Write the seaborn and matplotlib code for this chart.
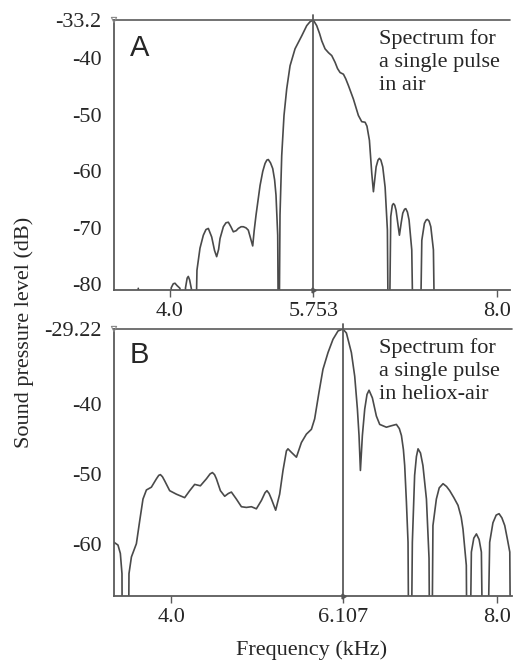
import numpy as np
import pandas as pd
import matplotlib
matplotlib.use("Agg")
import matplotlib.pyplot as plt
import seaborn as sns

# ---------------- data ----------------
freq_a = [3.315, 3.600, 3.612, 3.625, 3.995, 4.015, 4.040, 4.061, 4.085, 4.122,
          4.160, 4.190, 4.210, 4.224, 4.240, 4.262, 4.285, 4.300, 4.330, 4.367,
          4.408, 4.440, 4.469, 4.510, 4.545, 4.571, 4.595, 4.612, 4.653, 4.685,
          4.714, 4.745, 4.775, 4.810, 4.836, 4.870, 4.897, 4.930, 4.958, 4.985,
          5.012, 5.030, 5.053, 5.102, 5.135, 5.163, 5.185, 5.203, 5.230, 5.257,
          5.280, 5.297, 5.318, 5.330, 5.346, 5.367, 5.395, 5.428, 5.469, 5.530,
          5.612, 5.673, 5.714, 5.753, 5.795, 5.830, 5.857, 5.897, 5.940, 5.979,
          6.020, 6.050, 6.081, 6.122, 6.150, 6.183, 6.244, 6.305, 6.346, 6.387,
          6.410, 6.440, 6.469, 6.489, 6.522, 6.545, 6.562, 6.580, 6.603, 6.632,
          6.660, 6.676, 6.701, 6.720, 6.734, 6.750, 6.766, 6.790, 6.807, 6.830,
          6.848, 6.870, 6.885, 6.905, 6.925, 6.958, 6.986, 7.052, 7.081, 7.113,
          7.135, 7.149, 7.170, 7.191, 7.223, 7.248, 8.160]
level_a = [-100, -100, -80.7, -100, -100, -80.6, -79.9, -79.8, -80.2, -80.7,
           -100, -80.6, -78.9, -78.6, -79.2, -80.8, -100, -100, -77.5, -73.6,
           -71.3, -70.3, -70.1, -71.6, -74.0, -75.1, -73.8, -71.9, -69.8, -69.1,
           -69.0, -69.8, -70.7, -70.5, -70.1, -69.8, -69.8, -70.0, -70.4, -71.8,
           -73.2, -70.5, -67.7, -62.5, -60.0, -58.6, -58.0, -57.9, -58.5, -59.5,
           -61.5, -64.2, -71.3, -100, -67.7, -57.2, -50.1, -45.4, -41.3, -38.3,
           -36.0, -34.2, -33.5, -33.2, -34.2, -35.6, -36.9, -38.3, -39.0, -39.5,
           -40.7, -41.8, -42.5, -42.8, -43.6, -44.8, -47.2, -50.1, -51.2, -51.3,
           -52.0, -54.5, -60.4, -63.6, -59.2, -58.0, -57.7, -58.0, -59.2, -62.8,
           -70.4, -100, -68.0, -66.0, -65.7, -66.0, -66.9, -69.5, -71.3, -69.0,
           -67.4, -66.7, -66.6, -67.2, -68.6, -73.9, -100, -100, -72.2, -69.2,
           -68.6, -68.5, -68.8, -69.8, -73.9, -100, -100]

freq_b = [3.295, 3.344, 3.373, 3.393, 3.405, 3.459, 3.479, 3.509, 3.570, 3.611,
          3.651, 3.693, 3.754, 3.816, 3.845, 3.865, 3.890, 3.918, 3.979, 4.061,
          4.163, 4.225, 4.286, 4.356, 4.430, 4.475, 4.504, 4.530, 4.553, 4.602,
          4.655, 4.700, 4.737, 4.798, 4.860, 4.921, 4.983, 5.044, 5.106, 5.150,
          5.174, 5.200, 5.229, 5.281, 5.330, 5.371, 5.413, 5.432, 5.474, 5.536,
          5.597, 5.658, 5.720, 5.760, 5.813, 5.862, 5.924, 5.985, 6.047, 6.107,
          6.150, 6.211, 6.252, 6.285, 6.305, 6.322, 6.346, 6.375, 6.403, 6.428,
          6.469, 6.518, 6.559, 6.641, 6.700, 6.764, 6.800, 6.826, 6.850, 6.866,
          6.887, 6.907, 6.928, 6.960, 6.988, 7.010, 7.030, 7.060, 7.090, 7.133,
          7.165, 7.185, 7.213, 7.255, 7.290, 7.337, 7.380, 7.419, 7.470, 7.521,
          7.560, 7.582, 7.623, 7.644, 7.685, 7.715, 7.747, 7.780, 7.808, 7.849,
          7.910, 7.950, 7.990, 8.025, 8.060, 8.095, 8.130, 8.157, 8.180]
level_b = [-59.8, -60.2, -61.4, -64.3, -100, -100, -64.3, -61.9, -60.0, -56.7,
           -53.6, -52.3, -51.9, -50.7, -50.2, -50.1, -50.4, -51.0, -52.4, -52.9,
           -53.4, -52.4, -51.5, -51.7, -50.7, -50.0, -49.8, -50.1, -50.7, -52.4,
           -53.2, -52.8, -52.6, -53.6, -54.7, -54.8, -54.7, -55.0, -53.8, -52.7,
           -52.4, -52.8, -53.6, -55.2, -52.9, -49.5, -46.7, -46.4, -46.9, -47.6,
           -45.5, -44.3, -43.6, -42.1, -38.3, -35.0, -32.6, -30.7, -29.5, -29.22,
           -29.8, -32.6, -36.0, -40.7, -44.5, -49.5, -44.5, -40.7, -38.6, -38.0,
           -39.1, -41.7, -42.9, -43.3, -43.1, -42.9, -43.5, -44.5, -46.5, -48.8,
           -54.0, -59.8, -100, -59.8, -50.2, -47.5, -46.4, -47.0, -48.8, -53.6,
           -62.1, -100, -57.4, -53.6, -52.0, -51.4, -51.8, -52.4, -53.4, -54.5,
           -56.2, -57.9, -63.1, -100, -61.2, -59.2, -58.6, -59.4, -61.2, -100,
           -59.8, -57.0, -55.9, -55.7, -56.3, -57.4, -59.5, -61.2, -100]

peak_a = (5.753, -33.2)
peak_b = (6.107, -29.22)
xticks_a = [4.0, 5.753, 8.0]
xticklabels_a = ["4.0", "5.753", "8.0"]
xticks_b = [4.0, 6.107, 8.0]
xticklabels_b = ["4.0", "6.107", "8.0"]
yticks_a = [-33.2, -40, -50, -60, -70, -80]
yticklabels_a = ["-33.2", "-40", "-50", "-60", "-70", "-80"]
yticks_b = [-29.22, -40, -50, -60]
yticklabels_b = ["-29.22", "-40", "-50", "-60"]
note_a = "Spectrum for\na single pulse\nin air"
note_b = "Spectrum for\na single pulse\nin heliox-air"

# ---------------- style ----------------
sns.set_style("white")
plt.rcParams["font.family"] = ["Liberation Serif", "DejaVu Serif"]

W, H = 521, 665
fig = plt.figure(figsize=(W / 100, H / 100), dpi=100)

def fx(px):
    return px / W

def fy(py):
    return 1 - py / H

line_col = "#4a4a4a"
axis_col = "#5a5a5a"

panels = [
    dict(freq=freq_a, level=level_a, peak=peak_a, xlim=(3.315, 8.16), ylim=(-81.0, -33.2),
         xt=xticks_a, xtl=xticklabels_a, yt=yticks_a, ytl=yticklabels_a,
         box=(114, 20, 510, 290), letter="A", note=note_a, letter_y=34, note_y=29),
    dict(freq=freq_b, level=level_b, peak=peak_b, xlim=(3.295, 8.178), ylim=(-67.5, -29.22),
         xt=xticks_b, xtl=xticklabels_b, yt=yticks_b, ytl=yticklabels_b,
         box=(114, 329, 511.5, 596), letter="B", note=note_b, letter_y=341, note_y=338),
]

for p in panels:
    l, t, r, b = p["box"]
    ax = fig.add_axes([fx(l), fy(b), fx(r) - fx(l), fy(t) - fy(b)])
    df = pd.DataFrame({"Frequency": p["freq"], "Level": p["level"]})
    sns.lineplot(data=df, x="Frequency", y="Level", ax=ax, estimator=None, sort=False,
                 color=line_col, linewidth=1.2, solid_joinstyle="round",
                 solid_capstyle="round")
    ax.set_xlim(*p["xlim"])
    ax.set_ylim(*p["ylim"])
    ax.set_xlabel("")
    ax.set_ylabel("")
    # cursor lines
    ax.axhline(p["peak"][1], color=axis_col, lw=1.2, clip_on=False, zorder=3)
    ax.axvline(p["peak"][0], ymin=0, ymax=1.02, color=axis_col, lw=1.3, clip_on=False, zorder=3)
    # small cursor markers
    ax.scatter([p["xlim"][0]], [p["peak"][1]], marker="v", s=14, facecolor="none",
               edgecolor="#888888", lw=0.8, clip_on=False, zorder=4)
    ax.plot([p["peak"][0]], [p["ylim"][0]], marker=(3, 0, 30), ms=4, color="#555555",
            clip_on=False, zorder=4)
    for side in ("top", "right"):
        ax.spines[side].set_visible(False)
    for side in ("left", "bottom"):
        ax.spines[side].set_color(axis_col)
        ax.spines[side].set_linewidth(1.3)
    ax.set_xticks(p["xt"])
    ax.set_xticklabels(p["xtl"])
    ax.set_yticks(p["yt"])
    ax.set_yticklabels(p["ytl"])
    ax.tick_params(axis="x", direction="out", length=5, width=1, color=axis_col,
                   labelsize=16, pad=4, bottom=True)
    ax.tick_params(axis="y", length=0, labelsize=16, pad=9, left=True)
    ax.set_facecolor("white")
    fig.text(fx(130), fy(p["letter_y"]), p["letter"], family=["Liberation Sans", "DejaVu Sans"],
             fontsize=21, va="top", ha="left")
    fig.text(fx(379), fy(p["note_y"]), p["note"], fontsize=16, va="top", ha="left",
             linespacing=1.3)

fig.text(fx(24), fy(332), "Sound pressure level (dB)", rotation=90, fontsize=16,
         va="center", ha="center")
fig.text(fx(312), fy(650), "Frequency (kHz)", fontsize=16, va="center", ha="center")

fig.savefig("out.png", dpi=100, facecolor="white")
